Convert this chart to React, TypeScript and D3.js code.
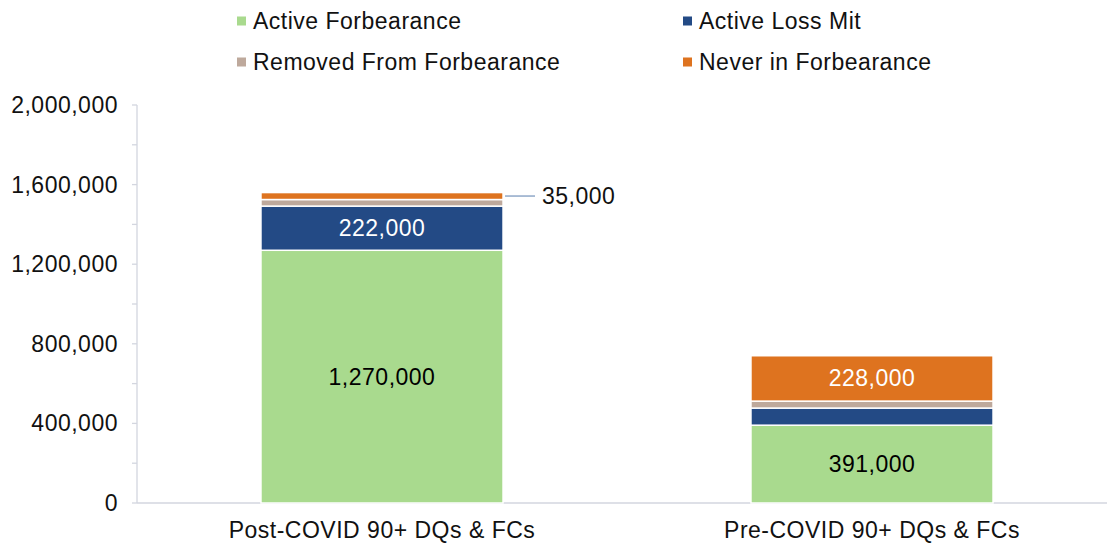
import React, { useRef, useEffect } from 'react';
import * as d3 from 'd3';

// data
const categories = ['Post-COVID 90+ DQs & FCs', 'Pre-COVID 90+ DQs & FCs'];
const seriesNames = ['Active Forbearance', 'Active Loss Mit', 'Removed From Forbearance', 'Never in Forbearance'];
const activeForbearance = [1270000, 391000];
const activeLossMit = [222000, 86000];
const removedFromForbearance = [33000, 35000];
const neverInForbearance = [35000, 228000];
const yTicks = [0, 400000, 800000, 1200000, 1600000, 2000000];

const colors = ['#A9DA8E', '#234A85', '#BEA99C', '#DE731F'];
const labelColors = ['#000', '#fff', '#000', '#fff'];
// which segments get a value label inside the bar
const showInside = [[true, true], [true, false], [false, false], [false, true]];

const W = 1107, H = 544;
const margin = { top: 105, right: -10, bottom: 41, left: 137 };

const App = () => {
  const ref = useRef<SVGSVGElement>(null);

  useEffect(() => {
    const svg = d3.select(ref.current);
    svg.selectAll('*').remove();
    const font = 'Liberation Sans, Arial, sans-serif';
    const fs = 23, ls = 0.5;
    const w = W - margin.left - margin.right;
    const h = H - margin.top - margin.bottom;

    const rows = categories.map((c, i) => ({
      cat: c,
      'Active Forbearance': activeForbearance[i],
      'Active Loss Mit': activeLossMit[i],
      'Removed From Forbearance': removedFromForbearance[i],
      'Never in Forbearance': neverInForbearance[i],
    }));
    const stacked = d3.stack<any>().keys(seriesNames)(rows);

    const x = d3.scaleBand().domain(categories).range([0, w]).paddingInner(0.506).paddingOuter(0.253);
    const y = d3.scaleLinear().domain([0, 2000000]).range([h, 0]);

    const chart = svg.append('g').attr('transform', `translate(${margin.left},${margin.top})`);

    // y axis with minor ticks every 200k
    const axisColor = '#D3D6DF';
    chart.append('line').attr('x1', 0).attr('x2', 0).attr('y1', y(2000000)).attr('y2', h)
      .attr('stroke', axisColor).attr('stroke-width', 1.3);
    chart.selectAll('.ytick').data(d3.range(0, 2000001, 200000)).enter().append('line')
      .attr('x1', -5).attr('x2', 0).attr('y1', d => y(d)).attr('y2', d => y(d))
      .attr('stroke', axisColor).attr('stroke-width', 1.3);
    chart.selectAll('.ylab').data(yTicks).enter().append('text')
      .attr('x', -19).attr('y', d => y(d)).attr('dy', '0.35em')
      .attr('text-anchor', 'end').attr('font-family', font).attr('font-size', fs)
      .attr('letter-spacing', ls).attr('fill', '#111')
      .text(d => d3.format(',')(d));

    // x axis
    chart.append('line').attr('x1', 0).attr('x2', w).attr('y1', h).attr('y2', h)
      .attr('stroke', axisColor).attr('stroke-width', 1.3);
    chart.selectAll('.xlab').data(categories).enter().append('text')
      .attr('x', d => x(d)! + x.bandwidth() / 2).attr('y', h + 27)
      .attr('dy', '0.35em').attr('text-anchor', 'middle')
      .attr('font-family', font).attr('font-size', fs).attr('letter-spacing', ls)
      .attr('fill', '#111').text(d => d);

    // bars
    stacked.forEach((s, si) => {
      const g = chart.append('g');
      g.selectAll('rect').data(s).enter().append('rect')
        .attr('x', d => x(d.data.cat)!).attr('width', x.bandwidth())
        .attr('y', d => y(d[1])).attr('height', d => y(d[0]) - y(d[1]))
        .attr('fill', colors[si]).attr('stroke', '#fff').attr('stroke-width', 1.5);
      g.selectAll('text').data(s.filter((d, i) => showInside[si][i])).enter().append('text')
        .attr('x', d => x(d.data.cat)! + x.bandwidth() / 2)
        .attr('y', d => (y(d[0]) + y(d[1])) / 2).attr('dy', '0.35em')
        .attr('text-anchor', 'middle').attr('font-family', font).attr('font-size', fs)
        .attr('letter-spacing', ls)
        .attr('fill', labelColors[si]).text(d => d3.format(',')(d[1] - d[0]));
    });

    // leader label for the small orange segment on the first bar
    const top = stacked[3][0];
    const ly = (y(top[0]) + y(top[1])) / 2;
    const lx = x(categories[0])! + x.bandwidth();
    chart.append('line').attr('x1', lx + 2).attr('x2', lx + 32).attr('y1', ly).attr('y2', ly)
      .attr('stroke', '#8FA8C8').attr('stroke-width', 1.5);
    chart.append('text').attr('x', lx + 39).attr('y', ly).attr('dy', '0.35em')
      .attr('font-family', font).attr('font-size', fs).attr('letter-spacing', ls).attr('fill', '#111')
      .text(d3.format(',')(top[1] - top[0]));

    // legend
    const legendPos = [[237, 21], [683, 21], [237, 62], [683, 62]];
    seriesNames.forEach((n, i) => {
      const [lx0, ly0] = legendPos[i];
      svg.append('rect').attr('x', lx0).attr('y', ly0 - 4.5).attr('width', 9).attr('height', 9).attr('fill', colors[i]);
      svg.append('text').attr('x', lx0 + 16).attr('y', ly0).attr('dy', '0.35em')
        .attr('font-family', font).attr('font-size', fs).attr('letter-spacing', ls)
        .attr('fill', '#111').text(n);
    });
  }, []);

  return (
    <div style={{ position: 'absolute', left: 0, top: 0 }}>
      <svg ref={ref} width={W} height={H} style={{ display: 'block', background: '#fff' }} />
    </div>
  );
};

export default App;
